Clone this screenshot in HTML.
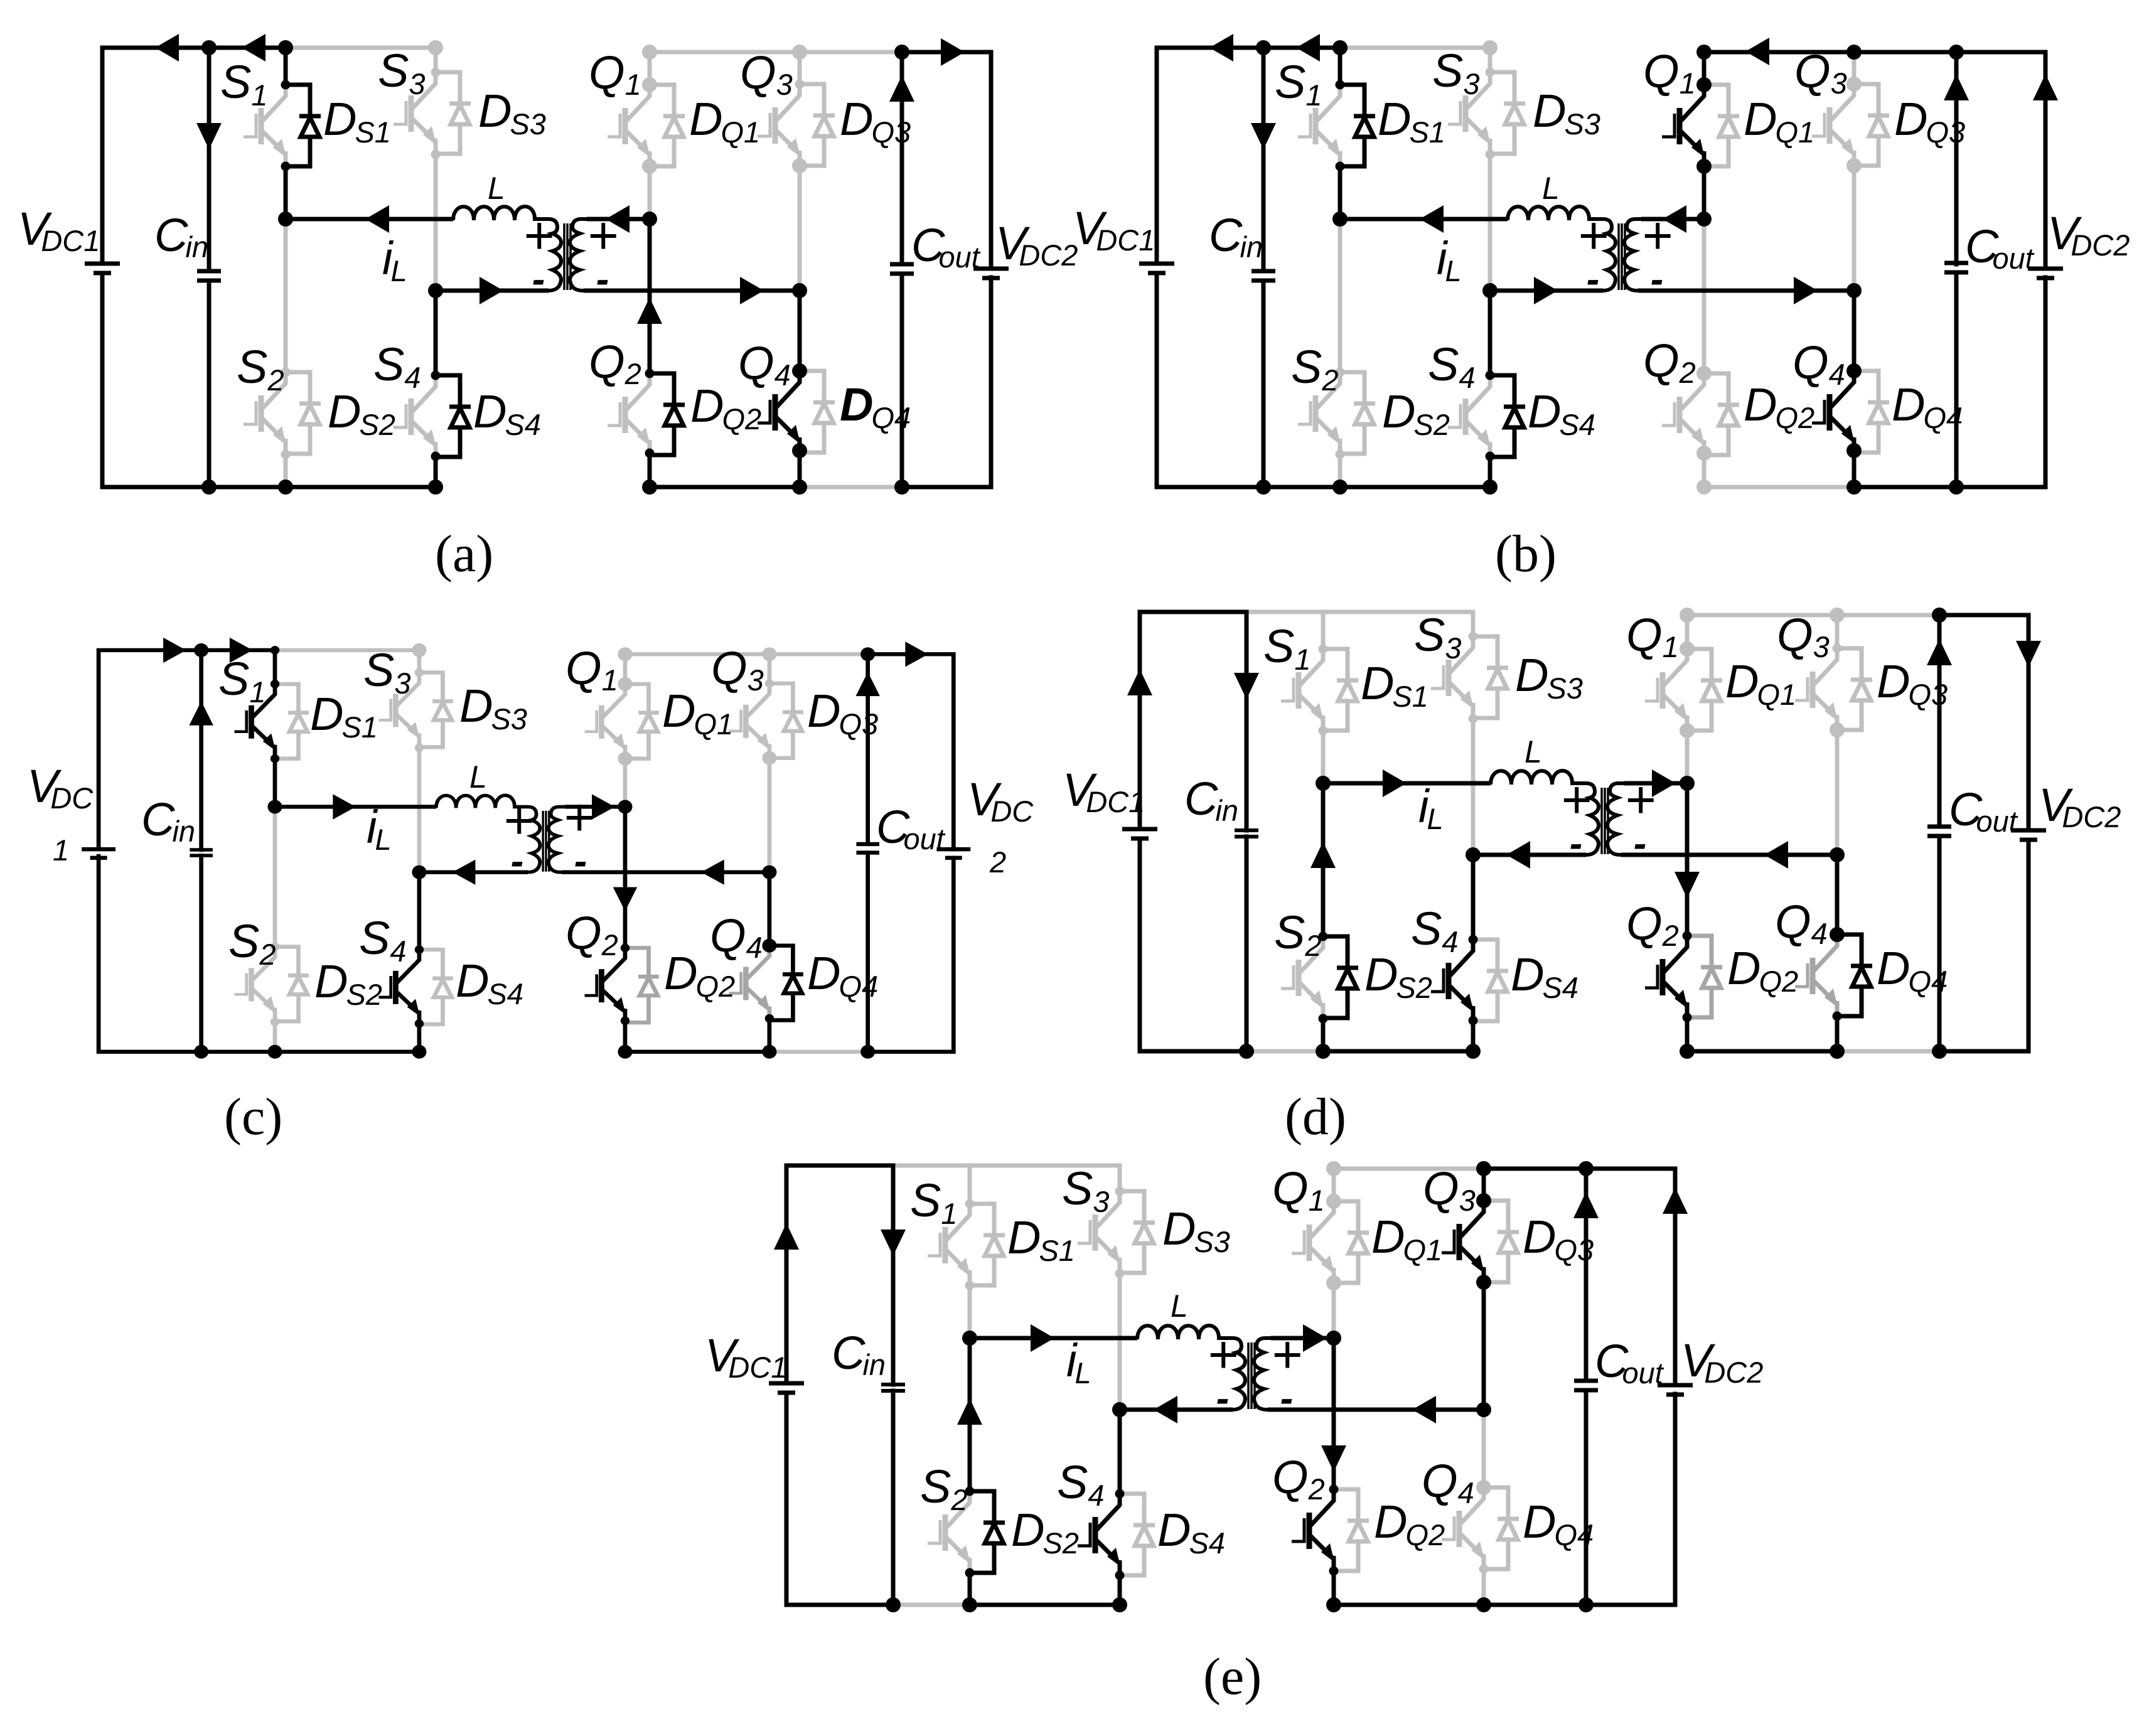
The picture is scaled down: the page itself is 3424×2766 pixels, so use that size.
<!DOCTYPE html>
<html><head><meta charset="utf-8"><style>
html,body{margin:0;padding:0;background:#fff}
svg{display:block}
.w{fill:none;stroke-width:7;stroke-linejoin:miter;stroke-linecap:square}
.g{color:#bfbfbf}.k{color:#000}.m{color:#a6a6a6}
.wg{stroke:#bfbfbf}.wk{stroke:#000}
.bk{fill:none;stroke:#000;stroke-width:24;stroke-linecap:round}
.sk{fill:none;stroke:#000;stroke-width:15;stroke-linecap:round}
.bg{fill:none;stroke:#bfbfbf;stroke-width:24;stroke-linecap:round}
.sg{fill:none;stroke:#bfbfbf;stroke-width:15;stroke-linecap:round}
text{font-family:"Liberation Sans",sans-serif;font-style:italic;font-size:74px;fill:#000}
tspan{font-size:47px}
.L{font-size:50px}
.p{font-size:84px;font-weight:normal;text-anchor:middle}
.n{font-size:62px;font-weight:bold;text-anchor:middle}
.cap{font-family:"Liberation Serif",serif;font-style:normal;font-size:84px}
</style></head><body>
<svg xmlns="http://www.w3.org/2000/svg" width="3424" height="2766" viewBox="0 0 3424 2766">
<rect width="3424" height="2766" fill="#fff"/>
<defs>
<g id="T" fill="none" stroke="currentColor" stroke-width="7">
<path d="M0 0V18L-39 60"/><path d="M-39 37V95" stroke-width="9"/>
<path d="M-39 72L-3 108M0 106V130"/>
<path d="M-67 83H-47V46" stroke-width="5"/>
<polygon points="1,116 -20,100 -6,86" fill="currentColor" stroke="none"/>
</g>
<g id="D" fill="none" stroke="currentColor" stroke-width="7">
<path d="M0 0H39V50M22 50H56M39 83V130H0"/>
<polygon points="39,52 24,83 54,83" fill="#fff"/>
</g>
<polygon id="AR" points="0,0 -38,-22 -38,22" fill="#000"/>
<polygon id="AL" points="0,0 38,-22 38,22" fill="#000"/>
<polygon id="AU" points="0,0 -20,42 20,42" fill="#000"/>
<polygon id="AD" points="0,0 -20,-42 20,-42" fill="#000"/>
<g id="BAT" fill="none" stroke="#000" stroke-width="7"><path d="M-28 0H28M-14 15H14"/></g>
<g id="CAP" fill="none" stroke="#000" stroke-width="7"><path d="M-19 0H19M-19 15H19"/></g>
<g id="CAP2" fill="none" stroke="#000" stroke-width="6"><path d="M-19 0H19M-19 10H19"/></g>
<g id="XF" fill="none" stroke="#000" stroke-width="6">
<path d="M455 349H722M694 463H874M935 349H1035M930 463H1274" stroke-width="7"/>
<path d="M722 351C722 322 755 322 755 351C755 322 787 322 787 351C787 322 820 322 820 351C820 322 852 322 852 349H874Q888 349 888 362Q888 370 880 372Q894 378 894 386Q894 396 880 400Q894 406 894 416Q894 426 880 430Q894 436 894 446Q892 463 874 463"/>
<path d="M935 349H926Q912 349 912 362Q912 368 924 372Q908 378 908 386Q908 396 924 400Q908 406 908 416Q908 426 924 430Q908 436 908 446Q910 463 928 463H935"/>
<path d="M899 356V462M904 356V462M909 356V462" stroke-width="3.5"/>
</g>
</defs>

<!-- PANEL A -->
<g>
<path class="w wg" d="M455 76H694V115M694 246V463M455 349V593M455 724V776M1035 83H1437M1035 83V135M1035 265V349M1274 83V134M1274 264V463M1274 776H1437"/>
<use href="#T" class="g" x="455" y="135"/><use href="#D" class="k" x="455" y="135"/>
<use href="#T" class="g" x="455" y="593"/><use href="#D" class="g" x="455" y="593"/>
<use href="#T" class="g" x="694" y="115"/><use href="#D" class="g" x="694" y="115"/>
<use href="#T" class="g" x="694" y="598"/><use href="#D" class="k" x="694" y="598"/>
<use href="#T" class="g" x="1035" y="135"/><use href="#D" class="g" x="1035" y="135"/>
<use href="#T" class="g" x="1035" y="595"/><use href="#D" class="k" x="1035" y="595"/>
<use href="#T" class="g" x="1274" y="134"/><use href="#D" class="g" x="1274" y="134"/>
<use href="#T" class="k" x="1274" y="591"/><use href="#D" class="g" x="1274" y="591"/>
<path class="bg" d="M694 76h.01M1035 83h.01M1274 83h.01M1035 135h.01M1035 265h.01M1274 264h.01"/>
<path class="sg" d="M455 593h.01M455 724h.01M694 115h.01M694 246h.01M1274 134h.01"/>
<path class="w wk" d="M163 76H455V135M455 265V349M163 76V420M163 435V776H694M333 76V432M333 447V776M694 463V598M694 727V776M1035 349V595M1035 722V776H1274M1274 463V591M1274 718V776M1437 83V421M1437 436V776H1579M1437 83H1579V428M1579 442V776"/>
<use href="#XF"/>
<use href="#BAT" x="163" y="420"/><use href="#CAP" x="333" y="432"/><use href="#CAP" x="1437" y="421"/><use href="#BAT" x="1579" y="428"/>
<path class="bk" d="M333 76h.01M455 76h.01M455 349h.01M694 463h.01M333 776h.01M455 776h.01M694 776h.01M1035 776h.01M1274 776h.01M1437 776h.01M1437 83h.01M1274 463h.01M1274 591h.01M1274 718h.01M1035 349h.01"/>
<path class="sk" d="M455 135h.01M455 265h.01M694 598h.01M694 727h.01M1035 595h.01M1035 722h.01"/>
<use href="#AL" x="247" y="76"/><use href="#AL" x="385" y="76"/><use href="#AD" x="333" y="238"/><use href="#AL" x="582" y="349"/><use href="#AR" x="802" y="463"/><use href="#AL" x="965" y="349"/><use href="#AR" x="1217" y="463"/><use href="#AU" x="1035" y="474"/><use href="#AR" x="1537" y="83"/><use href="#AU" x="1437" y="120"/>
<text x="351" y="156">S<tspan dy="12">1</tspan></text><text x="602" y="138">S<tspan dy="12">3</tspan></text><text x="377" y="610">S<tspan dy="12">2</tspan></text><text x="595" y="606">S<tspan dy="12">4</tspan></text>
<text x="515" y="215">D<tspan dy="12" dx="-3">S1</tspan></text><text x="762" y="202">D<tspan dy="12" dx="-3">S3</tspan></text><text x="522" y="681">D<tspan dy="12" dx="-3">S2</tspan></text><text x="754" y="681">D<tspan dy="12" dx="-3">S4</tspan></text>
<text x="28" y="390">V<tspan dy="10" dx="-12">DC1</tspan></text><text x="246" y="400">C<tspan dy="10" dx="-4">in</tspan></text><text x="609" y="437">i<tspan dy="11" dx="-3">L</tspan></text><text class="L" x="777" y="317">L</text>
<text class="p" x="858" y="404">+</text><text class="n" x="858" y="466">-</text><text class="p" x="960" y="404">+</text><text class="n" x="960" y="466">-</text>
<text x="938" y="141">Q<tspan dy="10">1</tspan></text><text x="1179" y="141">Q<tspan dy="10">3</tspan></text><text x="938" y="602">Q<tspan dy="10">2</tspan></text><text x="1176" y="604">Q<tspan dy="10">4</tspan></text>
<text x="1098" y="215">D<tspan dy="12" dx="-3">Q1</tspan></text><text x="1338" y="215">D<tspan dy="12" dx="-3">Q3</tspan></text><text x="1100" y="672">D<tspan dy="12" dx="-3">Q2</tspan></text><text x="1338" y="670" font-weight="bold">D<tspan dy="12" dx="-3" font-weight="normal">Q4</tspan></text>
<text x="1452" y="416">C<tspan dy="10" dx="-10">out</tspan></text><text x="1586" y="413">V<tspan dy="10" dx="-12">DC2</tspan></text>
<text class="cap" x="693" y="910">(a)</text>
</g>

<!-- PANEL B -->
<g transform="translate(1680,0)">
<path class="w wg" d="M455 76H694V115M694 246V463M455 349V593M455 724V776M1035 349V595M1035 722V776H1274M1274 83V134M1274 264V463"/>
<use href="#T" class="g" x="455" y="135"/><use href="#D" class="k" x="455" y="135"/>
<use href="#T" class="g" x="455" y="593"/><use href="#D" class="g" x="455" y="593"/>
<use href="#T" class="g" x="694" y="115"/><use href="#D" class="g" x="694" y="115"/>
<use href="#T" class="g" x="694" y="598"/><use href="#D" class="k" x="694" y="598"/>
<use href="#T" class="k" x="1035" y="135"/><use href="#D" class="g" x="1035" y="135"/>
<use href="#T" class="g" x="1035" y="595"/><use href="#D" class="g" x="1035" y="595"/>
<use href="#T" class="g" x="1274" y="134"/><use href="#D" class="g" x="1274" y="134"/>
<use href="#T" class="k" x="1274" y="591"/><use href="#D" class="g" x="1274" y="591"/>
<path class="bg" d="M694 76h.01M1274 134h.01M1274 264h.01M1035 595h.01M1035 722h.01M1035 776h.01"/>
<path class="sg" d="M455 593h.01M455 724h.01M694 115h.01M694 246h.01"/>
<path class="w wk" d="M163 76H455V135M455 265V349M163 76V420M163 435V776H694M333 76V432M333 447V776M694 463V598M694 727V776M1035 83V135M1035 265V349M1035 83H1579V428M1579 442V776H1274V718M1274 463V591M1437 83V421M1437 436V776"/>
<use href="#XF"/>
<use href="#BAT" x="163" y="420"/><use href="#CAP" x="333" y="432"/><use href="#CAP" x="1437" y="419"/><use href="#BAT" x="1579" y="428"/>
<path class="bk" d="M333 76h.01M455 76h.01M455 349h.01M694 463h.01M333 776h.01M455 776h.01M694 776h.01M1035 83h.01M1035 135h.01M1035 265h.01M1035 349h.01M1274 83h.01M1437 83h.01M1274 463h.01M1274 591h.01M1274 718h.01M1274 776h.01M1437 776h.01"/>
<path class="sk" d="M455 135h.01M455 265h.01M694 598h.01M694 727h.01"/>
<use href="#AL" x="247" y="76"/><use href="#AL" x="385" y="76"/><use href="#AD" x="333" y="238"/><use href="#AL" x="582" y="349"/><use href="#AR" x="802" y="463"/><use href="#AL" x="969" y="349"/><use href="#AR" x="1216" y="463"/><use href="#AL" x="1101" y="82"/><use href="#AU" x="1437" y="118"/><use href="#AU" x="1579" y="118"/>
<text x="351" y="156">S<tspan dy="12">1</tspan></text><text x="602" y="138">S<tspan dy="12">3</tspan></text><text x="377" y="610">S<tspan dy="12">2</tspan></text><text x="595" y="606">S<tspan dy="12">4</tspan></text>
<text x="515" y="215">D<tspan dy="12" dx="-3">S1</tspan></text><text x="762" y="202">D<tspan dy="12" dx="-3">S3</tspan></text><text x="522" y="681">D<tspan dy="12" dx="-3">S2</tspan></text><text x="754" y="681">D<tspan dy="12" dx="-3">S4</tspan></text>
<text x="29" y="389">V<tspan dy="10" dx="-12">DC1</tspan></text><text x="246" y="400">C<tspan dy="10" dx="-4">in</tspan></text><text x="609" y="437">i<tspan dy="11" dx="-3">L</tspan></text><text class="L" x="777" y="317">L</text>
<text class="p" x="858" y="404">+</text><text class="n" x="858" y="466">-</text><text class="p" x="960" y="404">+</text><text class="n" x="960" y="466">-</text>
<text x="938" y="139">Q<tspan dy="10">1</tspan></text><text x="1179" y="139">Q<tspan dy="10">3</tspan></text><text x="938" y="600">Q<tspan dy="10">2</tspan></text><text x="1176" y="603">Q<tspan dy="10">4</tspan></text>
<text x="1098" y="215">D<tspan dy="12" dx="-3">Q1</tspan></text><text x="1338" y="215">D<tspan dy="12" dx="-3">Q3</tspan></text><text x="1098" y="670">D<tspan dy="12" dx="-3">Q2</tspan></text><text x="1334" y="670">D<tspan dy="12" dx="-3">Q4</tspan></text>
<text x="1451" y="418">C<tspan dy="10" dx="-10">out</tspan></text><text x="1582" y="397">V<tspan dy="10" dx="-12">DC2</tspan></text>
<text class="cap" x="702" y="910">(b)</text>
</g>

<!-- PANEL C -->
<g transform="translate(0.3,966.5) scale(.962,.914)">
<path class="w wg" d="M455 76H694V115M694 246V463M455 349V593M455 724V776M1035 83H1437M1035 83V135M1035 265V349M1274 83V134M1274 264V463M1274 776H1437"/>
<use href="#T" class="k" x="455" y="135"/><use href="#D" class="g" x="455" y="135"/>
<use href="#T" class="g" x="455" y="593"/><use href="#D" class="g" x="455" y="593"/>
<use href="#T" class="g" x="694" y="115"/><use href="#D" class="g" x="694" y="115"/>
<use href="#T" class="k" x="694" y="598"/><use href="#D" class="g" x="694" y="598"/>
<use href="#T" class="g" x="1035" y="135"/><use href="#D" class="g" x="1035" y="135"/>
<use href="#T" class="k" x="1035" y="595"/><use href="#D" class="m" x="1035" y="595"/>
<use href="#T" class="g" x="1274" y="134"/><use href="#D" class="g" x="1274" y="134"/>
<use href="#T" class="m" x="1274" y="591"/><use href="#D" class="k" x="1274" y="591"/>
<path class="bg" d="M694 76h.01M1035 83h.01M1274 83h.01M1035 135h.01M1035 265h.01M1274 264h.01"/>
<path class="sg" d="M455 593h.01M455 724h.01M694 115h.01M694 246h.01M1274 134h.01"/>
<path class="w wk" d="M163 76H455V135M455 265V349M163 76V420M163 435V776H694M333 76V424M333 434V776M694 463V598M694 727V776M1035 349V595M1035 722V776H1274M1274 463V591M1274 718V776M1437 83V414M1437 429V776H1579M1437 83H1579V423M1579 438V776"/>
<use href="#XF"/>
<use href="#BAT" x="163" y="423"/><use href="#CAP2" x="333" y="424"/><use href="#CAP" x="1437" y="414"/><use href="#BAT" x="1579" y="423"/>
<path class="bk" d="M333 76h.01M455 349h.01M694 463h.01M333 776h.01M455 776h.01M694 776h.01M1035 776h.01M1274 776h.01M1437 776h.01M1437 83h.01M1274 463h.01M1274 591h.01M1035 349h.01"/>
<path class="sk" d="M455 76h.01M455 135h.01M455 265h.01M694 598h.01M694 727h.01M1035 595h.01M1035 722h.01M1274 718h.01"/>
<use href="#AR" x="308" y="76"/><use href="#AR" x="418" y="76"/><use href="#AU" x="333" y="165"/><use href="#AR" x="589" y="349"/><use href="#AL" x="749" y="463"/><use href="#AR" x="1018" y="349"/><use href="#AL" x="1161" y="463"/><use href="#AD" x="1035" y="531"/><use href="#AR" x="1537" y="83"/><use href="#AU" x="1437" y="114"/>
</g>
<text x="348" y="1107">S<tspan dy="12">1</tspan></text><text x="579" y="1093">S<tspan dy="12">3</tspan></text><text x="364" y="1525">S<tspan dy="12">2</tspan></text><text x="572" y="1520">S<tspan dy="12">4</tspan></text>
<text x="494" y="1163">D<tspan dy="12" dx="-3">S1</tspan></text><text x="732" y="1150">D<tspan dy="12" dx="-3">S3</tspan></text><text x="501" y="1589">D<tspan dy="12" dx="-3">S2</tspan></text><text x="726" y="1588">D<tspan dy="12" dx="-3">S4</tspan></text>
<text x="43" y="1278">V<tspan dy="10" dx="-12">DC</tspan></text><text x="84" y="1371" style="font-size:47px">1</text><text x="225" y="1331">C<tspan dy="10" dx="-4">in</tspan></text><text x="584" y="1343">i<tspan dy="11" dx="-3">L</tspan></text><text class="L" x="748" y="1255">L</text>
<text class="p" x="826" y="1336">+</text><text class="n" x="824" y="1393">-</text><text class="p" x="922" y="1331">+</text><text class="n" x="925" y="1393">-</text>
<text x="901" y="1090">Q<tspan dy="10">1</tspan></text><text x="1133" y="1090">Q<tspan dy="10">3</tspan></text><text x="901" y="1512">Q<tspan dy="10">2</tspan></text><text x="1131" y="1516">Q<tspan dy="10">4</tspan></text>
<text x="1055" y="1158">D<tspan dy="12" dx="-3">Q1</tspan></text><text x="1286" y="1158">D<tspan dy="12" dx="-3">Q3</tspan></text><text x="1058" y="1576">D<tspan dy="12" dx="-3">Q2</tspan></text><text x="1286" y="1576">D<tspan dy="12" dx="-3">Q4</tspan></text>
<text x="1396" y="1343">C<tspan dy="10" dx="-10">out</tspan></text><text x="1541" y="1299">V<tspan dy="10" dx="-12">DC</tspan></text><text x="1577" y="1390" style="font-size:47px">2</text>
<text class="cap" x="357" y="1807">(c)</text>

<!-- PANEL D -->
<g transform="translate(1653,899)">
<path class="w wg" d="M333 76H694V115M455 76V135M455 265V349M694 246V463M333 776H455M1035 81H1437M1035 81V135M1035 265V349M1274 81V134M1274 264V463M1274 776H1437"/>
<use href="#T" class="g" x="455" y="135"/><use href="#D" class="g" x="455" y="135"/>
<use href="#T" class="g" x="455" y="593"/><use href="#D" class="k" x="455" y="593"/>
<use href="#T" class="g" x="694" y="115"/><use href="#D" class="g" x="694" y="115"/>
<use href="#T" class="k" x="694" y="598"/><use href="#D" class="g" x="694" y="598"/>
<use href="#T" class="g" x="1035" y="135"/><use href="#D" class="g" x="1035" y="135"/>
<use href="#T" class="k" x="1035" y="592"/><use href="#D" class="m" x="1035" y="592"/>
<use href="#T" class="g" x="1274" y="134"/><use href="#D" class="g" x="1274" y="134"/>
<use href="#T" class="m" x="1274" y="590"/><use href="#D" class="k" x="1274" y="590"/>
<path class="bg" d="M1035 81h.01M1274 81h.01M1035 135h.01M1035 265h.01M1274 264h.01"/>
<path class="sg" d="M455 135h.01M455 265h.01M694 115h.01M694 246h.01M1274 134h.01"/>
<path class="w wk" d="M163 76H333V424M333 434V776H163V437M163 422V76M455 349V593M455 724V776H694M694 463V598M694 727V776M1035 349V592M1035 722V776H1274M1274 463V590M1274 720V776M1437 81V418M1437 433V776H1579M1437 81H1579V424M1579 439V776"/>
<use href="#XF"/>
<use href="#BAT" x="163" y="422"/><use href="#CAP2" x="333" y="424"/><use href="#CAP" x="1437" y="418"/><use href="#BAT" x="1579" y="424"/>
<path class="bk" d="M333 776h.01M455 349h.01M694 463h.01M455 776h.01M694 776h.01M1035 349h.01M1035 776h.01M1274 776h.01M1274 463h.01M1274 590h.01M1437 81h.01M1437 776h.01"/>
<path class="sk" d="M455 593h.01M455 724h.01M694 598h.01M694 727h.01M1035 592h.01M1035 722h.01M1274 720h.01"/>
<use href="#AU" x="163" y="167"/><use href="#AD" x="333" y="215"/><use href="#AU" x="455" y="442"/><use href="#AR" x="588" y="349"/><use href="#AL" x="747" y="463"/><use href="#AR" x="1017" y="349"/><use href="#AL" x="1158" y="463"/><use href="#AD" x="1035" y="532"/><use href="#AU" x="1437" y="119"/><use href="#AD" x="1579" y="164"/>
<text x="360" y="156">S<tspan dy="12">1</tspan></text><text x="600" y="138">S<tspan dy="12">3</tspan></text><text x="377" y="612">S<tspan dy="12">2</tspan></text><text x="595" y="606">S<tspan dy="12">4</tspan></text>
<text x="515" y="215">D<tspan dy="12" dx="-3">S1</tspan></text><text x="761" y="202">D<tspan dy="12" dx="-3">S3</tspan></text><text x="521" y="679">D<tspan dy="12" dx="-3">S2</tspan></text><text x="754" y="679">D<tspan dy="12" dx="-3">S4</tspan></text>
<text x="40" y="385">V<tspan dy="10" dx="-12">DC1</tspan></text><text x="234" y="399">C<tspan dy="10" dx="-4">in</tspan></text><text x="607" y="411">i<tspan dy="11" dx="-3">L</tspan></text><text class="L" x="776" y="316">L</text>
<text class="p" x="858" y="404">+</text><text class="n" x="858" y="466">-</text><text class="p" x="960" y="404">+</text><text class="n" x="960" y="466">-</text>
<text x="938" y="138">Q<tspan dy="10">1</tspan></text><text x="1178" y="138">Q<tspan dy="10">3</tspan></text><text x="938" y="598">Q<tspan dy="10">2</tspan></text><text x="1175" y="595">Q<tspan dy="10">4</tspan></text>
<text x="1096" y="212">D<tspan dy="12" dx="-3">Q1</tspan></text><text x="1337" y="212">D<tspan dy="12" dx="-3">Q3</tspan></text><text x="1099" y="669">D<tspan dy="12" dx="-3">Q2</tspan></text><text x="1337" y="669">D<tspan dy="12" dx="-3">Q4</tspan></text>
<text x="1452" y="416">C<tspan dy="10" dx="-10">out</tspan></text><text x="1595" y="409">V<tspan dy="10" dx="-12">DC2</tspan></text>
<text class="cap" x="394" y="908">(d)</text>
</g>

<!-- PANEL E -->
<g transform="translate(1090,1783)">
<path class="w wg" d="M333 74H694V115M455 74V135M455 265V349M694 246V463M333 774H455M1035 79H1274M1035 79V135M1035 265V349M1274 463V591M1274 718V774"/>
<use href="#T" class="g" x="455" y="135"/><use href="#D" class="g" x="455" y="135"/>
<use href="#T" class="g" x="455" y="593"/><use href="#D" class="k" x="455" y="593"/>
<use href="#T" class="g" x="694" y="115"/><use href="#D" class="g" x="694" y="115"/>
<use href="#T" class="k" x="694" y="597"/><use href="#D" class="g" x="694" y="597"/>
<use href="#T" class="g" x="1035" y="131"/><use href="#D" class="g" x="1035" y="131"/>
<use href="#T" class="k" x="1035" y="590"/><use href="#D" class="g" x="1035" y="590"/>
<use href="#T" class="k" x="1274" y="130"/><use href="#D" class="g" x="1274" y="130"/>
<use href="#T" class="g" x="1274" y="587"/><use href="#D" class="g" x="1274" y="587"/>
<path class="bg" d="M1035 79h.01M1035 131h.01M1035 261h.01M1274 587h.01"/>
<path class="sg" d="M455 135h.01M455 265h.01M694 115h.01M694 246h.01M1274 717h.01"/>
<path class="w wk" d="M163 74H333V423M333 433V774H163V436M163 421V74M455 349V593M455 723V774H694M694 463V597M694 727V774M1035 349V590M1035 720V774H1579V438M1579 424V79H1274V130M1274 260V463M1437 79V417M1437 432V774"/>
<use href="#XF"/>
<use href="#BAT" x="163" y="421"/><use href="#CAP2" x="333" y="423"/><use href="#CAP" x="1437" y="417"/><use href="#BAT" x="1579" y="424"/>
<path class="bk" d="M333 774h.01M455 349h.01M694 463h.01M455 774h.01M694 774h.01M1035 349h.01M1035 774h.01M1274 774h.01M1437 774h.01M1274 79h.01M1437 79h.01M1274 130h.01M1274 260h.01M1274 463h.01"/>
<path class="sk" d="M455 593h.01M455 723h.01M694 597h.01M694 727h.01M1035 590h.01M1035 720h.01"/>
<use href="#AU" x="163" y="166"/><use href="#AD" x="333" y="218"/><use href="#AU" x="455" y="445"/><use href="#AR" x="590" y="349"/><use href="#AL" x="748" y="463"/><use href="#AR" x="1024" y="349"/><use href="#AL" x="1160" y="463"/><use href="#AD" x="1035" y="562"/><use href="#AU" x="1437" y="116"/><use href="#AU" x="1579" y="109"/>
<text x="360" y="155">S<tspan dy="12">1</tspan></text><text x="602" y="136">S<tspan dy="12">3</tspan></text><text x="376" y="611">S<tspan dy="12">2</tspan></text><text x="594" y="604">S<tspan dy="12">4</tspan></text>
<text x="515" y="214">D<tspan dy="12" dx="-3">S1</tspan></text><text x="762" y="200">D<tspan dy="12" dx="-3">S3</tspan></text><text x="521" y="680">D<tspan dy="12" dx="-3">S2</tspan></text><text x="754" y="680">D<tspan dy="12" dx="-3">S4</tspan></text>
<text x="33" y="402">V<tspan dy="10" dx="-12">DC1</tspan></text><text x="235" y="398">C<tspan dy="10" dx="-4">in</tspan></text><text x="609" y="410">i<tspan dy="11" dx="-3">L</tspan></text><text class="L" x="775" y="315">L</text>
<text class="p" x="858" y="404">+</text><text class="n" x="858" y="466">-</text><text class="p" x="960" y="404">+</text><text class="n" x="960" y="466">-</text>
<text x="937" y="136">Q<tspan dy="10">1</tspan></text><text x="1177" y="136">Q<tspan dy="10">3</tspan></text><text x="937" y="596">Q<tspan dy="10">2</tspan></text><text x="1175" y="602">Q<tspan dy="10">4</tspan></text>
<text x="1095" y="213">D<tspan dy="12" dx="-3">Q1</tspan></text><text x="1336" y="213">D<tspan dy="12" dx="-3">Q3</tspan></text><text x="1099" y="667">D<tspan dy="12" dx="-3">Q2</tspan></text><text x="1336" y="667">D<tspan dy="12" dx="-3">Q4</tspan></text>
<text x="1451" y="411">C<tspan dy="10" dx="-10">out</tspan></text><text x="1588" y="410">V<tspan dy="10" dx="-12">DC2</tspan></text>
<text class="cap" x="827" y="916">(e)</text>
</g>
</svg>
</body></html>
